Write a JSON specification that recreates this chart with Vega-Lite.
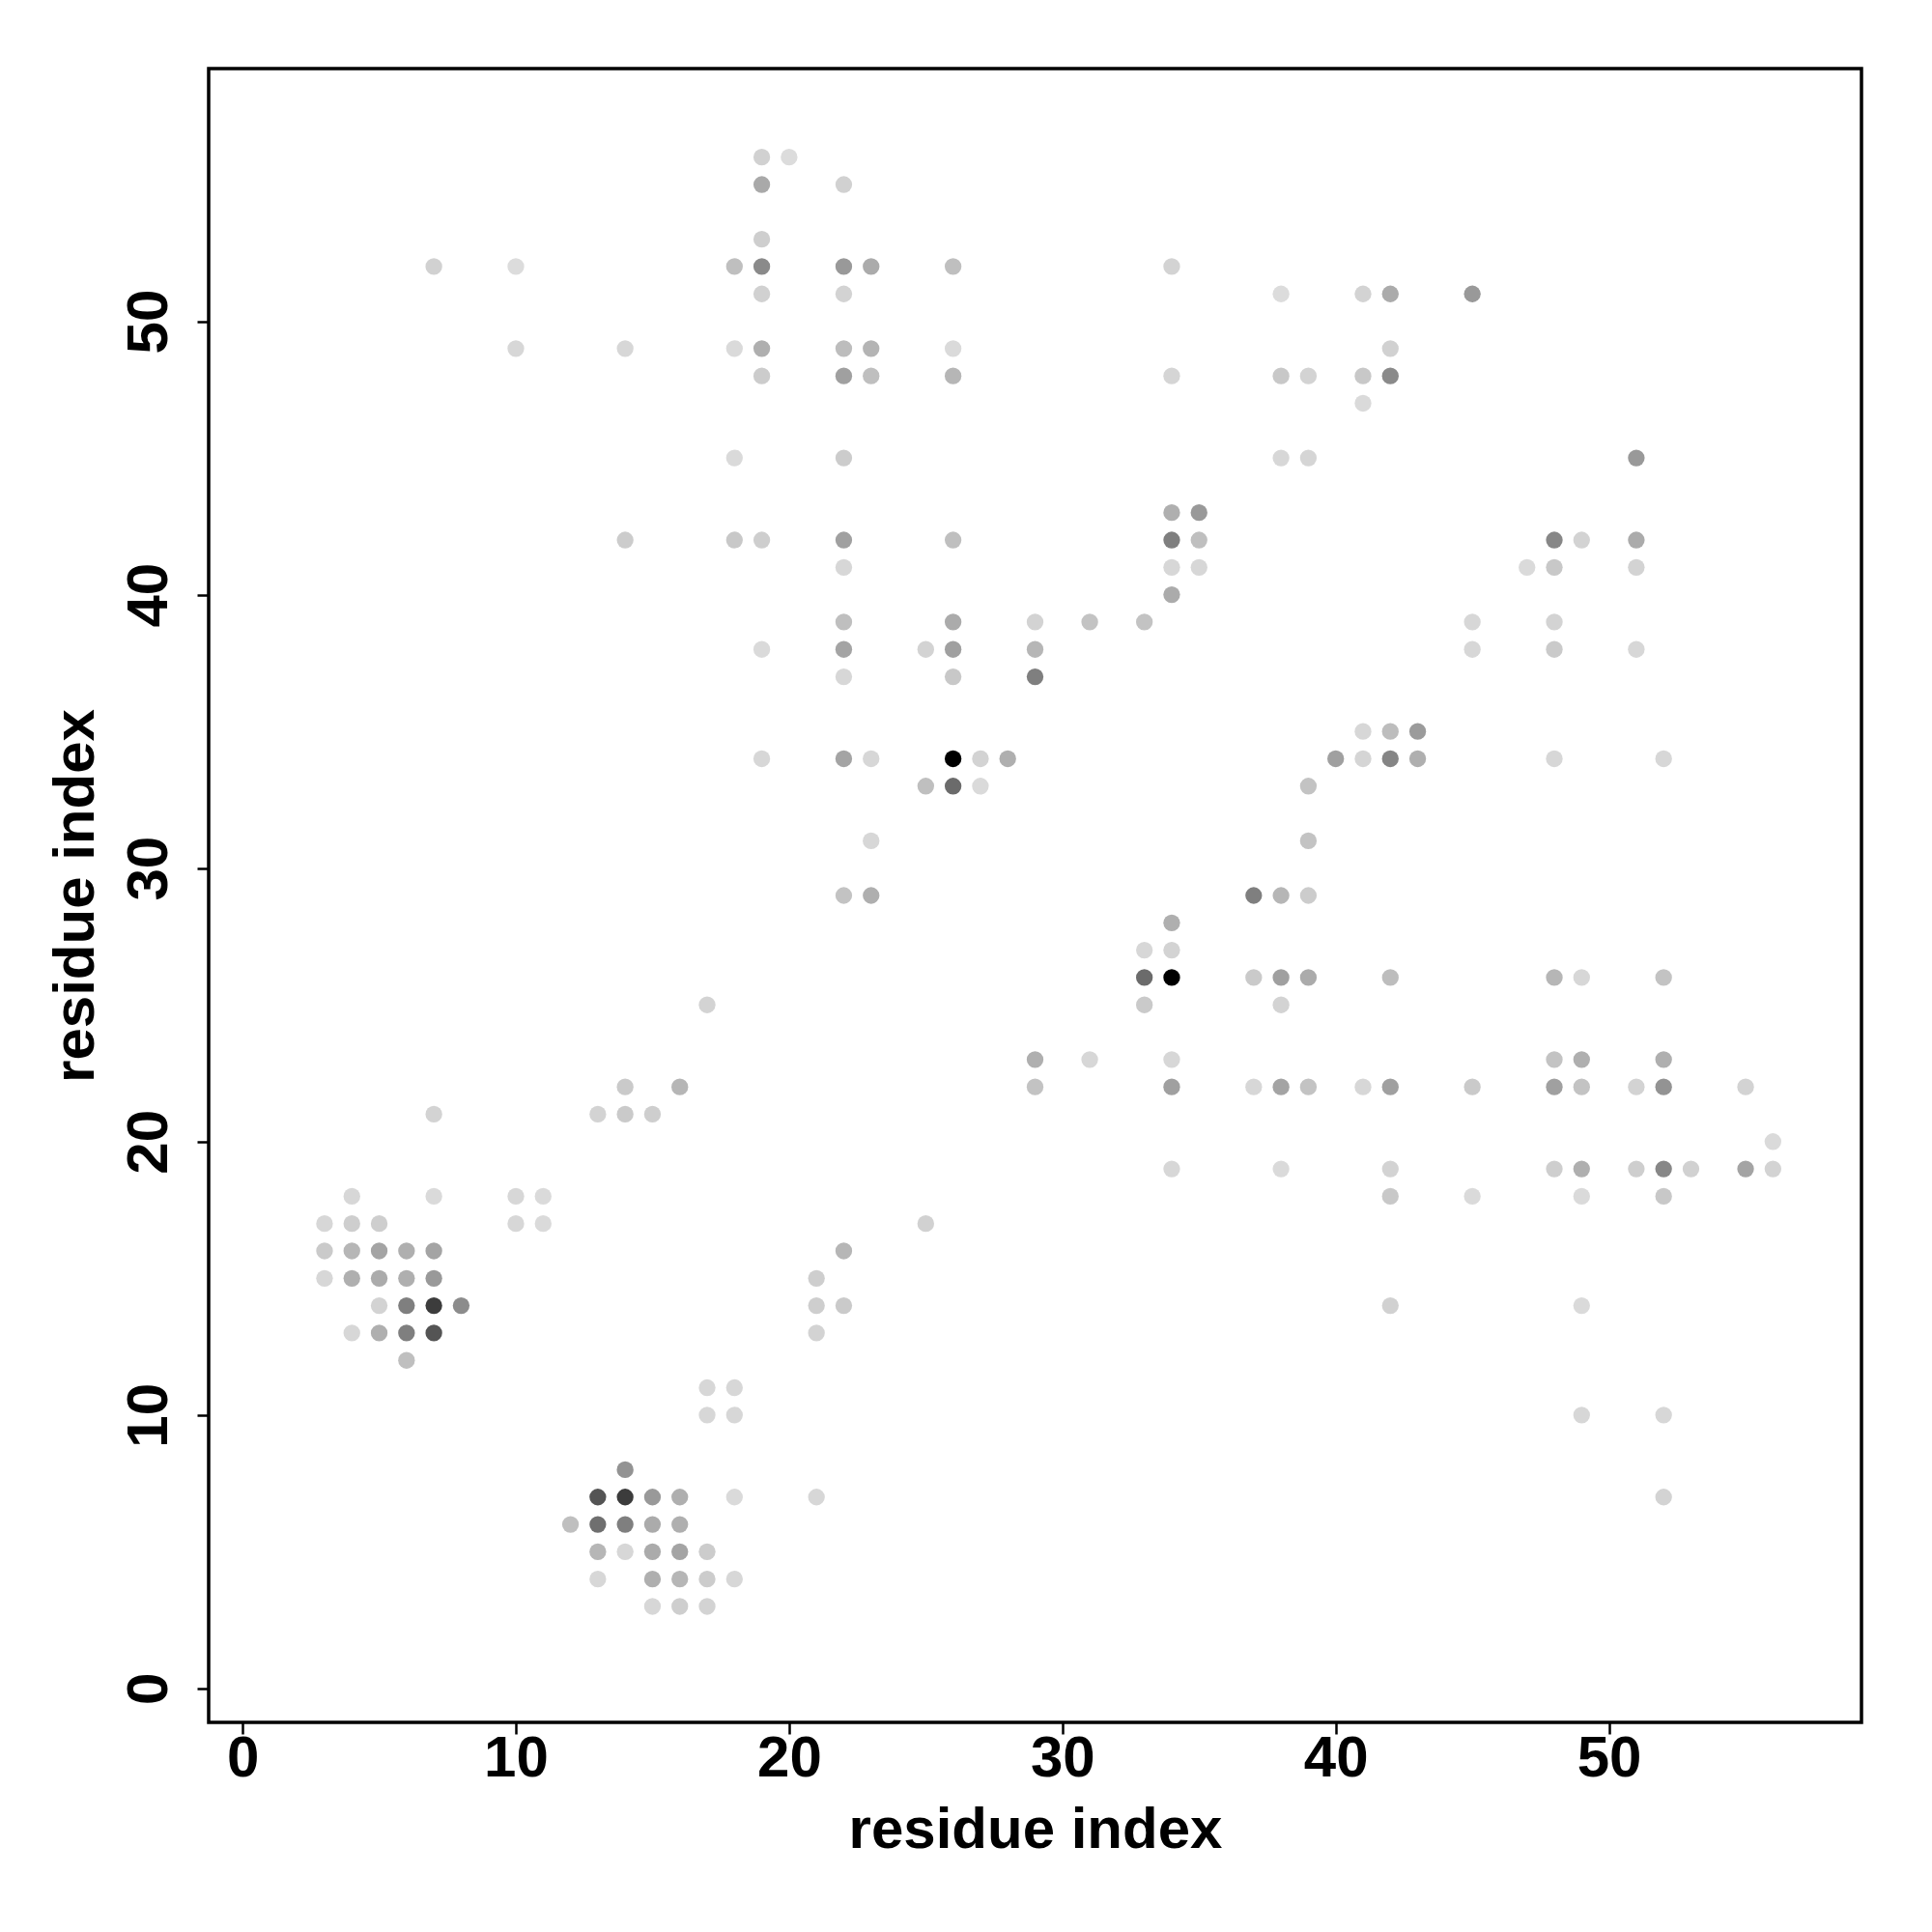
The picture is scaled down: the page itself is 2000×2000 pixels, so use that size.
{
  "$schema": "https://vega.github.io/schema/vega-lite/v6.json",
  "autosize": {"type": "none"},
  "padding": {"left": 216, "top": 71, "right": 73, "bottom": 217},
  "width": 1711,
  "height": 1712,
  "background": "white",
  "config": {
    "view": {"stroke": "black", "strokeWidth": 3.5},
    "axis": {
      "grid": false, "domain": false, "ticks": true, "tickColor": "black", "tickSize": 12, "tickWidth": 2.5,
      "labelFont": "Liberation Sans", "labelFontWeight": "bold", "labelFontSize": 60, "labelColor": "black",
      "titleFont": "Liberation Sans", "titleFontWeight": "bold", "titleFontSize": 60, "titleColor": "black"
    }
  },
  "data": {"values": [
    {"i":19,"j":56,"p":0.06},{"i":20,"j":56,"p":0.01},
    {"i":19,"j":55,"p":0.24},{"i":22,"j":55,"p":0.06},
    {"i":19,"j":53,"p":0.07},
    {"i":7,"j":52,"p":0.06},{"i":10,"j":52,"p":0.01},{"i":18,"j":52,"p":0.14},{"i":19,"j":52,"p":0.38},{"i":22,"j":52,"p":0.31},{"i":23,"j":52,"p":0.23},{"i":26,"j":52,"p":0.14},{"i":34,"j":52,"p":0.05},
    {"i":19,"j":51,"p":0.06},{"i":22,"j":51,"p":0.05},{"i":38,"j":51,"p":0.01},{"i":41,"j":51,"p":0.05},{"i":42,"j":51,"p":0.23},{"i":45,"j":51,"p":0.31},
    {"i":10,"j":49,"p":0.03},{"i":14,"j":49,"p":0.03},{"i":18,"j":49,"p":0.02},{"i":19,"j":49,"p":0.21},{"i":22,"j":49,"p":0.15},{"i":23,"j":49,"p":0.19},{"i":26,"j":49,"p":0.02},{"i":42,"j":49,"p":0.06},
    {"i":19,"j":48,"p":0.08},{"i":22,"j":48,"p":0.28},{"i":23,"j":48,"p":0.14},{"i":26,"j":48,"p":0.18},{"i":34,"j":48,"p":0.04},{"i":38,"j":48,"p":0.10},{"i":39,"j":48,"p":0.05},{"i":41,"j":48,"p":0.10},{"i":42,"j":48,"p":0.38},
    {"i":41,"j":47,"p":0.02},
    {"i":18,"j":45,"p":0.02},{"i":22,"j":45,"p":0.08},{"i":38,"j":45,"p":0.03},{"i":39,"j":45,"p":0.04},{"i":51,"j":45,"p":0.31},
    {"i":34,"j":43,"p":0.21},{"i":35,"j":43,"p":0.31},
    {"i":14,"j":42,"p":0.08},{"i":18,"j":42,"p":0.10},{"i":19,"j":42,"p":0.07},{"i":22,"j":42,"p":0.28},{"i":26,"j":42,"p":0.14},{"i":34,"j":42,"p":0.43},{"i":35,"j":42,"p":0.14},{"i":48,"j":42,"p":0.39},{"i":49,"j":42,"p":0.05},{"i":51,"j":42,"p":0.23},
    {"i":22,"j":41,"p":0.03},{"i":34,"j":41,"p":0.03},{"i":35,"j":41,"p":0.03},{"i":47,"j":41,"p":0.02},{"i":48,"j":41,"p":0.10},{"i":51,"j":41,"p":0.05},
    {"i":34,"j":40,"p":0.23},
    {"i":22,"j":39,"p":0.14},{"i":26,"j":39,"p":0.23},{"i":29,"j":39,"p":0.05},{"i":31,"j":39,"p":0.12},{"i":33,"j":39,"p":0.12},{"i":45,"j":39,"p":0.03},{"i":48,"j":39,"p":0.05},
    {"i":19,"j":38,"p":0.02},{"i":22,"j":38,"p":0.26},{"i":25,"j":38,"p":0.05},{"i":26,"j":38,"p":0.28},{"i":29,"j":38,"p":0.18},{"i":45,"j":38,"p":0.03},{"i":48,"j":38,"p":0.09},{"i":51,"j":38,"p":0.03},
    {"i":22,"j":37,"p":0.03},{"i":26,"j":37,"p":0.10},{"i":29,"j":37,"p":0.43},
    {"i":41,"j":35,"p":0.03},{"i":42,"j":35,"p":0.15},{"i":43,"j":35,"p":0.30},
    {"i":19,"j":34,"p":0.03},{"i":22,"j":34,"p":0.26},{"i":23,"j":34,"p":0.03},{"i":26,"j":34,"p":1.0},{"i":27,"j":34,"p":0.05},{"i":28,"j":34,"p":0.21},{"i":40,"j":34,"p":0.28},{"i":41,"j":34,"p":0.04},{"i":42,"j":34,"p":0.40},{"i":43,"j":34,"p":0.21},{"i":48,"j":34,"p":0.03},{"i":52,"j":34,"p":0.03},
    {"i":25,"j":33,"p":0.14},{"i":26,"j":33,"p":0.52},{"i":27,"j":33,"p":0.02},{"i":39,"j":33,"p":0.12},
    {"i":23,"j":31,"p":0.03},{"i":39,"j":31,"p":0.12},
    {"i":22,"j":29,"p":0.12},{"i":23,"j":29,"p":0.21},{"i":37,"j":29,"p":0.43},{"i":38,"j":29,"p":0.18},{"i":39,"j":29,"p":0.08},
    {"i":34,"j":28,"p":0.21},
    {"i":33,"j":27,"p":0.03},{"i":34,"j":27,"p":0.05},
    {"i":33,"j":26,"p":0.52},{"i":34,"j":26,"p":1.0},{"i":37,"j":26,"p":0.09},{"i":38,"j":26,"p":0.28},{"i":39,"j":26,"p":0.23},{"i":42,"j":26,"p":0.15},{"i":48,"j":26,"p":0.18},{"i":49,"j":26,"p":0.03},{"i":52,"j":26,"p":0.12},
    {"i":17,"j":25,"p":0.05},{"i":33,"j":25,"p":0.09},{"i":38,"j":25,"p":0.05},
    {"i":29,"j":23,"p":0.21},{"i":31,"j":23,"p":0.03},{"i":34,"j":23,"p":0.03},{"i":48,"j":23,"p":0.12},{"i":49,"j":23,"p":0.21},{"i":52,"j":23,"p":0.21},
    {"i":14,"j":22,"p":0.09},{"i":16,"j":22,"p":0.18},{"i":29,"j":22,"p":0.12},{"i":34,"j":22,"p":0.28},{"i":37,"j":22,"p":0.03},{"i":38,"j":22,"p":0.26},{"i":39,"j":22,"p":0.12},{"i":41,"j":22,"p":0.03},{"i":42,"j":22,"p":0.28},{"i":45,"j":22,"p":0.09},{"i":48,"j":22,"p":0.28},{"i":49,"j":22,"p":0.12},{"i":51,"j":22,"p":0.05},{"i":52,"j":22,"p":0.34},{"i":55,"j":22,"p":0.05},
    {"i":7,"j":21,"p":0.05},{"i":13,"j":21,"p":0.05},{"i":14,"j":21,"p":0.09},{"i":15,"j":21,"p":0.07},
    {"i":56,"j":20,"p":0.02},
    {"i":34,"j":19,"p":0.03},{"i":38,"j":19,"p":0.02},{"i":42,"j":19,"p":0.05},{"i":48,"j":19,"p":0.07},{"i":49,"j":19,"p":0.21},{"i":51,"j":19,"p":0.07},{"i":52,"j":19,"p":0.39},{"i":53,"j":19,"p":0.06},{"i":55,"j":19,"p":0.26},{"i":56,"j":19,"p":0.05},
    {"i":4,"j":18,"p":0.03},{"i":7,"j":18,"p":0.02},{"i":10,"j":18,"p":0.03},{"i":11,"j":18,"p":0.02},{"i":42,"j":18,"p":0.10},{"i":45,"j":18,"p":0.02},{"i":49,"j":18,"p":0.02},{"i":52,"j":18,"p":0.10},
    {"i":3,"j":17,"p":0.03},{"i":4,"j":17,"p":0.07},{"i":5,"j":17,"p":0.07},{"i":10,"j":17,"p":0.03},{"i":11,"j":17,"p":0.02},{"i":25,"j":17,"p":0.06},
    {"i":3,"j":16,"p":0.09},{"i":4,"j":16,"p":0.18},{"i":5,"j":16,"p":0.26},{"i":6,"j":16,"p":0.21},{"i":7,"j":16,"p":0.26},{"i":22,"j":16,"p":0.18},
    {"i":3,"j":15,"p":0.03},{"i":4,"j":15,"p":0.21},{"i":5,"j":15,"p":0.23},{"i":6,"j":15,"p":0.21},{"i":7,"j":15,"p":0.31},{"i":21,"j":15,"p":0.07},
    {"i":5,"j":14,"p":0.05},{"i":6,"j":14,"p":0.43},{"i":7,"j":14,"p":0.73},{"i":8,"j":14,"p":0.37},{"i":21,"j":14,"p":0.07},{"i":22,"j":14,"p":0.09},{"i":42,"j":14,"p":0.06},{"i":49,"j":14,"p":0.02},
    {"i":4,"j":13,"p":0.03},{"i":5,"j":13,"p":0.21},{"i":6,"j":13,"p":0.43},{"i":7,"j":13,"p":0.62},{"i":21,"j":13,"p":0.05},
    {"i":6,"j":12,"p":0.14},
    {"i":17,"j":11,"p":0.03},{"i":18,"j":11,"p":0.03},
    {"i":17,"j":10,"p":0.03},{"i":18,"j":10,"p":0.03},{"i":49,"j":10,"p":0.03},{"i":52,"j":10,"p":0.03},
    {"i":14,"j":8,"p":0.34},
    {"i":13,"j":7,"p":0.62},{"i":14,"j":7,"p":0.73},{"i":15,"j":7,"p":0.31},{"i":16,"j":7,"p":0.21},{"i":18,"j":7,"p":0.02},{"i":21,"j":7,"p":0.03},{"i":52,"j":7,"p":0.05},
    {"i":12,"j":6,"p":0.14},{"i":13,"j":6,"p":0.50},{"i":14,"j":6,"p":0.43},{"i":15,"j":6,"p":0.23},{"i":16,"j":6,"p":0.21},
    {"i":13,"j":5,"p":0.18},{"i":14,"j":5,"p":0.03},{"i":15,"j":5,"p":0.23},{"i":16,"j":5,"p":0.26},{"i":17,"j":5,"p":0.08},
    {"i":13,"j":4,"p":0.03},{"i":15,"j":4,"p":0.21},{"i":16,"j":4,"p":0.18},{"i":17,"j":4,"p":0.08},{"i":18,"j":4,"p":0.03},
    {"i":15,"j":3,"p":0.03},{"i":16,"j":3,"p":0.07},{"i":17,"j":3,"p":0.05}
  ]},
  "mark": {"type": "circle", "size": 300, "opacity": 1},
  "encoding": {
    "x": {
      "field": "i", "type": "quantitative",
      "scale": {"domain": [-1.24, 59.24], "nice": false, "zero": false},
      "axis": {"values": [0, 10, 20, 30, 40, 50], "title": "residue index", "labelBaseline": "alphabetic", "labelPadding": 43, "labelFlush": false, "labelOverlap": false,
               "titleBaseline": "alphabetic", "titleY": 129, "titleAnchor": "middle"}
    },
    "y": {
      "field": "j", "type": "quantitative",
      "scale": {"domain": [-1.24, 59.24], "nice": false, "zero": false},
      "axis": {"values": [0, 10, 20, 30, 40, 50], "title": "residue index", "labelAngle": -90, "labelAlign": "center", "labelBaseline": "alphabetic", "labelPadding": 32, "labelFlush": false, "labelOverlap": false,
               "titleAngle": -90, "titleAlign": "center", "titleBaseline": "alphabetic", "titleX": -120, "titleAnchor": "middle"}
    },
    "color": {
      "field": "p", "type": "quantitative",
      "scale": {"domain": [0, 1], "range": ["#dedede", "#000000"], "interpolate": "rgb"},
      "legend": null
    }
  }
}
